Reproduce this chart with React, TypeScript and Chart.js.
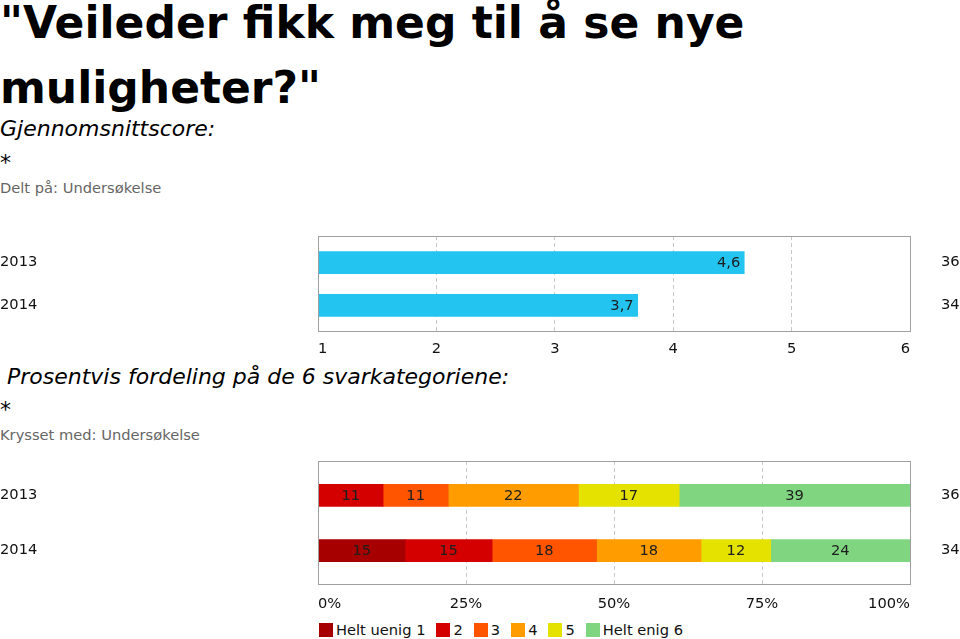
import React, { useEffect, useRef } from "react";
import { Chart, registerables } from "chart.js";

Chart.register(...registerables);

const FONT = "'DejaVu Sans', Verdana, sans-serif";

// ---- data ----
const titleLines = ['"Veileder fikk meg til å se nye', 'muligheter?"'];
const years = ["2013", "2014"];
const respondents = ["36", "34"];
const averageScores = [4.6, 3.7];
const scoreMin = 1;
const scoreMax = 6;
const answerLabels = ["Helt uenig 1", "2", "3", "4", "5", "Helt enig 6"];
const answerColors = ["#a60000", "#d40000", "#ff5500", "#ff9c00", "#e6e200", "#80d680"];
const percent2013 = [0, 11, 11, 22, 17, 39];
const percent2014 = [15, 15, 18, 18, 12, 24];
const percentRows = [percent2013, percent2014];

const tickFont = { family: FONT, size: 14.67 };
const TEXT = "#111";

const framePlugin = {
  id: "frame",
  afterDraw(chart: any) {
    const { ctx, chartArea: a } = chart;
    ctx.save();
    ctx.strokeStyle = "#a0a0a0";
    ctx.lineWidth = 1;
    ctx.strokeRect(
      Math.round(a.left) + 0.5,
      Math.round(a.top) + 0.5,
      Math.round(a.right - a.left),
      Math.round(a.bottom - a.top) - 1
    );
    ctx.restore();
  },
};

function labelPlugin(getText: (di: number, i: number) => string | null, mode: "end" | "center") {
  return {
    id: "barLabels",
    afterDatasetsDraw(chart: any) {
      const ctx = chart.ctx;
      ctx.save();
      ctx.font = `14.67px ${FONT}`;
      ctx.fillStyle = "#1e1e1e";
      ctx.textBaseline = "middle";
      chart.data.datasets.forEach((_ds: any, di: number) => {
        const meta = chart.getDatasetMeta(di);
        meta.data.forEach((el: any, i: number) => {
          const t = getText(di, i);
          if (t === null) return;
          if (mode === "end") {
            ctx.textAlign = "right";
            ctx.fillText(t, el.x - 4, el.y + 1);
          } else {
            ctx.textAlign = "center";
            ctx.fillText(t, (el.x + el.base) / 2, el.y + 1);
          }
        });
      });
      ctx.restore();
    },
  };
}

function indexScale(labels: string[], position: "left" | "right", width: number, align: string, padding: number) {
  return {
    type: "linear",
    position,
    min: -0.62,
    max: 1.62,
    reverse: true,
    offset: false,
    stacked: true,
    afterBuildTicks: (s: any) => {
      s.ticks = labels.map((_, i) => ({ value: i }));
    },
    afterFit: (s: any) => {
      s.width = width;
      s.paddingTop = 0;
      s.paddingBottom = 0;
    },
    grid: { display: false, drawTicks: false, offset: false },
    border: { display: false },
    ticks: {
      crossAlign: align,
      padding,
      autoSkip: false,
      font: tickFont,
      color: TEXT,
      callback: (v: any) => labels[v] ?? "",
    },
  };
}

function valueScale(min: number, max: number, step: number, height: number, padding: number, fmt: (v: number) => string) {
  return {
    type: "linear",
    min,
    max,
    stacked: true,
    ticks: {
      stepSize: step,
      align: "inner",
      padding,
      maxRotation: 0,
      autoSkip: false,
      font: tickFont,
      color: TEXT,
      callback: (v: any) => fmt(v),
    },
    grid: { color: "#c8c8c8", drawTicks: false, lineWidth: 1 },
    border: { display: false, dash: [4, 3] },
    afterFit: (s: any) => {
      s.height = height;
      s.paddingLeft = 0;
      s.paddingRight = 0;
    },
  };
}

function topConfig(): any {
  return {
    type: "bar",
    data: {
      datasets: [
        {
          data: averageScores.map((v, i) => ({ x: v, y: i })),
          backgroundColor: "#23c4f0",
          barThickness: 22,
          borderWidth: 0,
          base: scoreMin,
        },
      ],
    },
    options: {
      indexAxis: "y",
      animation: false,
      responsive: false,
      layout: { padding: { top: 11, left: 0, right: 0, bottom: 0 } },
      plugins: { legend: { display: false }, tooltip: { enabled: false } },
      scales: {
        x: valueScale(scoreMin, scoreMax, 1, 28, 8, (v) => String(v)),
        y: indexScale(years, "left", 318, "far", 0),
        y2: indexScale(respondents, "right", 50, "near", 31),
      },
    },
    plugins: [
      framePlugin,
      labelPlugin((_di, i) => averageScores[i].toFixed(1).replace(".", ","), "end"),
    ],
  };
}

function bottomConfig(): any {
  return {
    type: "bar",
    data: {
      datasets: answerLabels.map((lab, k) => ({
        label: lab,
        data: percentRows.map((row, i) => ({
          x: (row[k] / row.reduce((a, b) => a + b, 0)) * 100,
          y: i,
        })),
        backgroundColor: answerColors[k],
        barThickness: 22,
        borderWidth: 0,
        stack: "s",
      })),
    },
    options: {
      indexAxis: "y",
      animation: false,
      responsive: false,
      layout: { padding: { top: 11, left: 0, right: 0, bottom: 0 } },
      plugins: { legend: { display: false }, tooltip: { enabled: false } },
      scales: {
        x: valueScale(0, 100, 25, 35, 10, (v) => v + "%"),
        y: indexScale(years, "left", 318, "far", 0),
        y2: indexScale(respondents, "right", 50, "near", 31),
      },
    },
    plugins: [
      framePlugin,
      labelPlugin((di, i) => {
        const v = percentRows[i][di];
        return v ? String(v) : null;
      }, "center"),
    ],
  };
}

const abs = (left: number, top: number, extra: any = {}) => ({
  position: "absolute" as const,
  left,
  top,
  whiteSpace: "nowrap" as const,
  margin: 0,
  ...extra,
});

export default function App() {
  const topRef = useRef<HTMLCanvasElement>(null);
  const bottomRef = useRef<HTMLCanvasElement>(null);

  useEffect(() => {
    const c1 = new Chart(topRef.current as HTMLCanvasElement, topConfig());
    const c2 = new Chart(bottomRef.current as HTMLCanvasElement, bottomConfig());
    return () => {
      c1.destroy();
      c2.destroy();
    };
  }, []);

  const italic = { fontSize: 22, lineHeight: "26px", fontStyle: "italic", color: "#000" };
  const star = { fontSize: 22, lineHeight: "26px", color: "#000" };
  const grey = { fontSize: 14.67, lineHeight: "18px", color: "#666" };

  return (
    <div
      style={{
        position: "absolute",
        left: 0,
        top: 0,
        width: 960,
        height: 639,
        overflow: "hidden",
        background: "#fff",
        fontFamily: FONT,
        color: "#000",
      }}
    >
      <div style={abs(0, -10, { fontSize: 44, lineHeight: "65px", fontWeight: "bold" })}>
        {titleLines[0]}
        <br />
        {titleLines[1]}
      </div>
      <div style={abs(0, 116, italic)}>Gjennomsnittscore:</div>
      <div style={abs(0, 150, star)}>*</div>
      <div style={abs(0, 179, grey)}>Delt på: Undersøkelse</div>

      <canvas
        ref={topRef}
        width={960}
        height={135}
        style={{ position: "absolute", left: 0, top: 225, display: "block" }}
      />

      <div style={abs(7, 364, italic)}>Prosentvis fordeling på de 6 svarkategoriene:</div>
      <div style={abs(0, 397, star)}>*</div>
      <div style={abs(0, 426, grey)}>Krysset med: Undersøkelse</div>

      <canvas
        ref={bottomRef}
        width={960}
        height={170}
        style={{ position: "absolute", left: 0, top: 450, display: "block" }}
      />

      <div
        style={abs(319, 622, {
          display: "flex",
          alignItems: "center",
          height: 16,
          fontSize: 14.67,
          lineHeight: "16px",
          color: TEXT,
        })}
      >
        {answerLabels.map((lab, k) => (
          <span key={lab} style={{ display: "flex", alignItems: "center", marginRight: 11 }}>
            <span
              style={{
                display: "inline-block",
                width: 14,
                height: 14,
                background: answerColors[k],
                marginRight: 3,
              }}
            />
            <span>{lab}</span>
          </span>
        ))}
      </div>
    </div>
  );
}
